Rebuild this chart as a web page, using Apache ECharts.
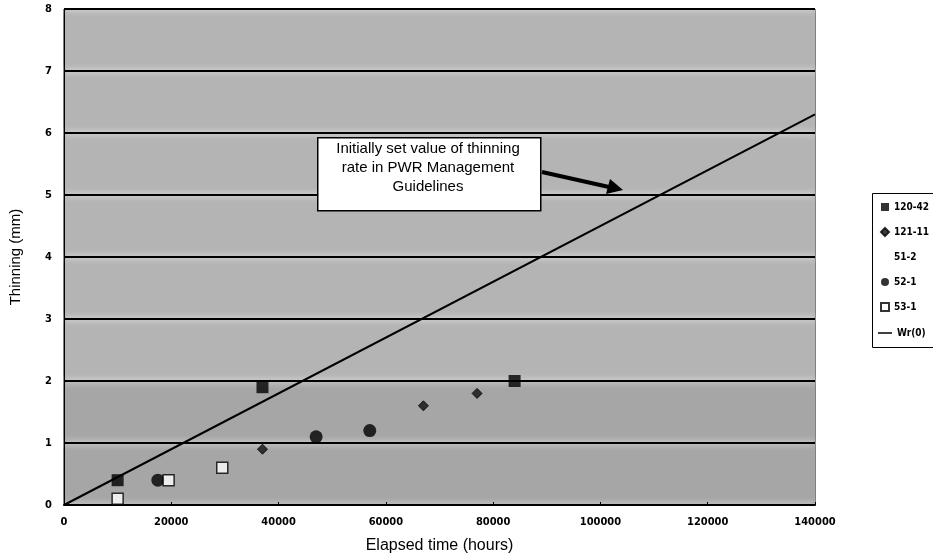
<!DOCTYPE html>
<html>
<head>
<meta charset="utf-8">
<script src="https://cdn.jsdelivr.net/npm/echarts@6/dist/echarts.min.js"></script>
<style>html,body{margin:0;padding:0;background:#fff}#c{width:933px;height:559px}</style>
</head>
<body>
<div id="c"></div>
<script>
// ---- data ----
const seriesNames = ['120-42', '121-11', '51-2', '52-1', '53-1', 'Wr(0)'];
const s120_42 = [[10000, 0.4], [37000, 1.9], [84000, 2.0]];
const s121_11 = [[37000, 0.9], [67000, 1.6], [77000, 1.8]];
const s51_2 = [];
const s52_1 = [[17500, 0.4], [47000, 1.1], [57000, 1.2]];
const s53_1 = [[10000, 0.1], [19500, 0.4], [29500, 0.6]];
const wr0 = [[0, 0], [140000, 6.3]];
const xTicks = [0, 20000, 40000, 60000, 80000, 100000, 120000, 140000];
const yTicks = [0, 1, 2, 3, 4, 5, 6, 7, 8];
const annotationLines = ['Initially set value of thinning', 'rate in PWR Management', 'Guidelines'];

const narrow = "'Liberation Sans Narrow','DejaVu Sans Condensed','Liberation Sans',sans-serif";
const chart = echarts.init(document.getElementById('c'), null, {renderer: 'canvas'});

chart.setOption({
  backgroundColor: '#fff',
  animation: false,
  grid: {left: 63, top: 9, width: 752, height: 496, show: true, borderColor: '#000', borderWidth: 1, backgroundColor: 'transparent'},
  xAxis: {
    type: 'value', min: xTicks[0], max: xTicks[xTicks.length - 1], interval: 20000,
    name: 'Elapsed time (hours)', nameLocation: 'middle', nameGap: 33,
    nameTextStyle: {fontFamily: "'Liberation Sans',Arial,sans-serif", fontSize: 16, color: '#000'},
    axisLine: {lineStyle: {color: '#000', width: 2}},
    axisTick: {show: true, inside: true, length: 3, lineStyle: {color: '#000'}},
    axisLabel: {color: '#000', fontFamily: narrow, fontWeight: 'bold', fontSize: 11, margin: 12, formatter: v => String(v)},
    splitLine: {show: false}
  },
  yAxis: {
    type: 'value', min: yTicks[0], max: yTicks[yTicks.length - 1], interval: 1,
    name: 'Thinning (mm)', nameLocation: 'middle', nameGap: 41, nameRotate: 90,
    nameTextStyle: {fontFamily: "'Liberation Sans',Arial,sans-serif", fontSize: 15, color: '#000'},
    axisLine: {show: true, lineStyle: {color: '#000', width: 1}},
    axisTick: {show: false},
    axisLabel: {color: '#000', fontFamily: narrow, fontWeight: 'bold', fontSize: 11, margin: 12},
    splitLine: {show: true, lineStyle: {color: '#000', width: 2, shadowColor: '#fff', shadowBlur: 6}},
    splitArea: {show: true, areaStyle: {color: ['#a6a6a6', '#a6a6a6', '#b4b4b4', '#b4b4b4', '#b4b4b4', '#b4b4b4', '#b4b4b4', '#b4b4b4']}}
  },
  legend: [{
    orient: 'vertical', left: 875, top: 197, itemWidth: 8, itemHeight: 8, itemGap: 15,
    textStyle: {fontFamily: narrow, fontWeight: 'bold', fontSize: 10, color: '#000'},
    data: [
      {name: seriesNames[0]},
      {name: seriesNames[1]},
      {name: seriesNames[2], itemStyle: {color: 'transparent', borderWidth: 0}},
      {name: seriesNames[3]},
      {name: seriesNames[4]}
    ]
  }, {
    orient: 'vertical', left: 873, top: 323, itemWidth: 14, itemHeight: 1.5, itemGap: 4,
    textStyle: {fontFamily: narrow, fontWeight: 'bold', fontSize: 10, color: '#000'},
    data: [{name: seriesNames[5], icon: 'rect'}]
  }],
  graphic: [
    {type: 'rect', left: 872, top: 193, shape: {width: 80, height: 154}, style: {fill: 'transparent', stroke: '#000', lineWidth: 1}, z: 100},
    {type: 'rect', left: 317, top: 137, shape: {width: 223, height: 73}, style: {fill: '#fff', stroke: '#000', lineWidth: 1.5}, z: 100},
    {type: 'text', x: 428, y: 139, style: {text: annotationLines.join('\n'), textAlign: 'center', fontFamily: "'Liberation Sans',Arial,sans-serif", fontSize: 15, lineHeight: 19, fill: '#000'}, z: 101},
    {type: 'line', shape: {x1: 542, y1: 172, x2: 609, y2: 187}, style: {stroke: '#000', lineWidth: 4}, z: 100},
    {type: 'polygon', shape: {points: [[623, 190], [606, 194], [610, 179]]}, style: {fill: '#000'}, z: 100}
  ],
  series: [
    {name: seriesNames[0], type: 'scatter', data: s120_42, symbol: 'rect', symbolSize: 12, itemStyle: {color: '#000'}, z: 5},
    {name: seriesNames[1], type: 'scatter', data: s121_11, symbol: 'diamond', symbolSize: 10, itemStyle: {color: '#111', borderColor: '#000', borderWidth: 1}, z: 5},
    {name: seriesNames[2], type: 'scatter', data: s51_2, symbol: 'none', itemStyle: {color: 'transparent'}},
    {name: seriesNames[3], type: 'scatter', data: s52_1, symbol: 'circle', symbolSize: 13, itemStyle: {color: '#000'}, z: 5},
    {name: seriesNames[4], type: 'scatter', data: s53_1, symbol: 'rect', symbolSize: 11, itemStyle: {color: '#fff', borderColor: '#000', borderWidth: 1.5}, z: 5},
    {name: seriesNames[5], type: 'line', data: wr0, symbol: 'none', lineStyle: {color: '#000', width: 2}, itemStyle: {color: '#000'}, z: 4}
  ]
});
</script>
</body>
</html>
